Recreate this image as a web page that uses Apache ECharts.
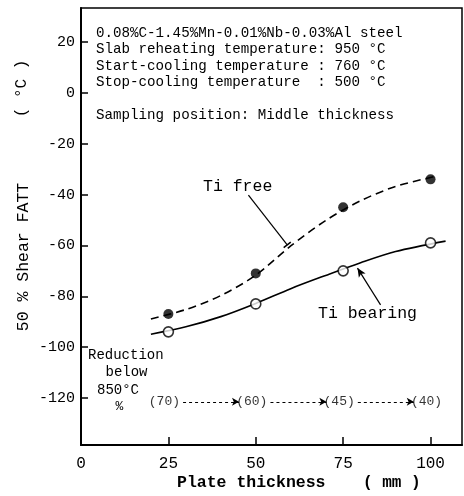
<!DOCTYPE html>
<html><head><meta charset="utf-8">
<script src="https://cdn.jsdelivr.net/npm/echarts@6/dist/echarts.min.js"></script>
<style>html,body{margin:0;padding:0;background:#fff}#c{width:464px;height:496px}</style>
</head><body><div id="c"></div>
<script>
// ---- data ----
const thickness = [25, 50, 75, 100];                 // Plate thickness (mm)
const tiFreeFATT = [-87, -71, -45, -34];             // 50% Shear FATT (°C), Ti free
const tiBearingFATT = [-94, -83, -70, -59];          // 50% Shear FATT (°C), Ti bearing
const tiFreeCurveX = [20, 30, 40, 50, 60, 70, 80, 90, 101.5];
const tiFreeCurveY = [-88.9, -85.2, -79.7, -71.7, -60.2, -50.2, -42.4, -36.8, -32.8];
const tiBearingCurveX = [20, 30, 40, 50, 60, 70, 80, 90, 104.3];
const tiBearingCurveY = [-94.9, -92.0, -88.0, -82.8, -77.0, -71.8, -66.8, -62.4, -58.3];
const reductionPct = [70, 60, 45, 40];               // Reduction below 850°C (%)
const reductionRowY = -121.5;
const xTicks = [0, 25, 50, 75, 100];
const yTicks = [20, 0, -20, -40, -60, -80, -100, -120];
const infoLines = [
  '0.08%C-1.45%Mn-0.01%Nb-0.03%Al steel',
  'Slab reheating temperature: 950 °C',
  'Start-cooling temperature : 760 °C',
  'Stop-cooling temperature  : 500 °C',
  '',
  'Sampling position: Middle thickness'
];

const MONO = '"Liberation Mono", "DejaVu Sans Mono", monospace';
const zip = (a, b) => a.map((v, i) => [v, b[i]]);

const chart = echarts.init(document.getElementById('c'), null, {renderer: 'canvas'});
const black = '#000';

const reductionArrows = [];
for (let i = 0; i < thickness.length - 1; i++) {
  reductionArrows.push([
    {coord: [thickness[i] + 4.2, reductionRowY], symbol: 'none'},
    {coord: [thickness[i + 1] - 4.8, reductionRowY], symbol: 'arrow', symbolSize: [6, 7]}
  ]);
}

chart.setOption({
  animation: false,
  backgroundColor: '#fff',
  grid: {left: 81, right: 2, top: 8, bottom: 51, show: true, borderColor: black, borderWidth: 1.5,
         containLabel: false, outerBoundsMode: 'none'},
  xAxis: {
    type: 'value', min: 0, max: 109,
    axisLine: {show: true, onZero: false, lineStyle: {color: black, width: 2}},
    axisTick: {show: true, inside: true, length: 8, lineStyle: {color: black, width: 1.5}, customValues: xTicks},
    axisLabel: {customValues: xTicks, color: black, fontFamily: MONO, fontSize: 16, margin: 11},
    splitLine: {show: false}
  },
  yAxis: {
    type: 'value', min: -138.5, max: 33.4,
    axisLine: {show: true, onZero: false, lineStyle: {color: black, width: 2}},
    axisTick: {show: true, inside: true, length: 7, lineStyle: {color: black, width: 1.5}, customValues: yTicks},
    axisLabel: {customValues: yTicks, color: black, fontFamily: MONO, fontSize: 15, margin: 6},
    splitLine: {show: false}
  },
  series: [
    {
      name: 'Ti free curve', type: 'line', smooth: 0.3, symbol: 'none', z: 2,
      data: zip(tiFreeCurveX, tiFreeCurveY),
      lineStyle: {color: black, width: 1.6, type: [8, 5]},
      markLine: {
        silent: true, animation: false, label: {show: false},
        lineStyle: {color: black, width: 1.2, type: 'solid'},
        data: [[{coord: [47.9, -40.2], symbol: 'none'}, {coord: [59, -59.8], symbol: 'rect', symbolSize: [9, 1.6]}]]
      }
    },
    {
      name: 'Ti bearing curve', type: 'line', smooth: 0.3, symbol: 'none', z: 2,
      data: zip(tiBearingCurveX, tiBearingCurveY),
      lineStyle: {color: black, width: 1.6},
      markLine: {
        silent: true, animation: false, label: {show: false},
        lineStyle: {color: black, width: 1.2, type: 'solid'},
        data: [[{coord: [85.7, -83.4], symbol: 'none'}, {coord: [79.1, -68.9], symbol: 'arrow', symbolSize: [6, 9]}]]
      }
    },
    {
      name: 'Ti free', type: 'scatter', z: 4, symbol: 'circle', symbolSize: 10,
      data: zip(thickness, tiFreeFATT),
      itemStyle: {color: black}
    },
    {
      name: 'Ti bearing', type: 'scatter', z: 4, symbol: 'circle', symbolSize: 10,
      data: zip(thickness, tiBearingFATT),
      itemStyle: {color: '#fff', borderColor: black, borderWidth: 1.6}
    },
    {
      name: 'Reduction', type: 'scatter', z: 3, symbolSize: 0,
      data: thickness.map((t, i) => [t, reductionRowY, reductionPct[i]]),
      label: {show: true, position: 'inside', offset: [-4, 0], color: black, fontFamily: MONO, fontSize: 13,
              formatter: p => '(' + p.value[2] + ')'},
      markLine: {
        silent: true, animation: false, label: {show: false},
        lineStyle: {color: black, width: 1, type: [3, 3]},
        data: reductionArrows
      }
    }
  ],
  graphic: [
    {type: 'text', x: 96, y: 24.8, z: 10, style: {text: infoLines.join('\n'), font: '14.2px ' + MONO, fill: black,
      lineHeight: 16.4, verticalAlign: 'top', align: 'left'}},
    {type: 'text', x: 88, y: 355, z: 10, style: {text: 'Reduction', font: '14px ' + MONO, fill: black, verticalAlign: 'middle'}},
    {type: 'text', x: 126.5, y: 372, z: 10, style: {text: 'below', font: '14px ' + MONO, fill: black, align: 'center', verticalAlign: 'middle'}},
    {type: 'text', x: 118, y: 390, z: 10, style: {text: '850°C', font: '14px ' + MONO, fill: black, align: 'center', verticalAlign: 'middle'}},
    {type: 'text', x: 119.5, y: 407, z: 10, style: {text: '%', font: '13px ' + MONO, fill: black, align: 'center', verticalAlign: 'middle'}},
    {type: 'text', x: 203, y: 187, z: 10, style: {text: 'Ti free', font: '16.5px ' + MONO, fill: black, verticalAlign: 'middle'}},
    {type: 'text', x: 318, y: 314, z: 10, style: {text: 'Ti bearing', font: '16.5px ' + MONO, fill: black, verticalAlign: 'middle'}},
    {type: 'text', x: 177, y: 483, z: 10, style: {text: 'Plate thickness', font: 'bold 16.5px ' + MONO, fill: black, verticalAlign: 'middle'}},
    {type: 'text', x: 363, y: 483, z: 10, style: {text: '( mm )', font: 'bold 16px ' + MONO, fill: black, verticalAlign: 'middle'}},
    {type: 'text', x: 24, y: 257, rotation: Math.PI / 2, z: 10, style: {text: '50 % Shear FATT', font: '16.5px ' + MONO, fill: black, align: 'center', verticalAlign: 'middle'}},
    {type: 'text', x: 22, y: 88.5, rotation: Math.PI / 2, z: 10, style: {text: '( °C )', font: '16px ' + MONO, fill: black, align: 'center', verticalAlign: 'middle'}}
  ]
});
</script>
</body></html>
